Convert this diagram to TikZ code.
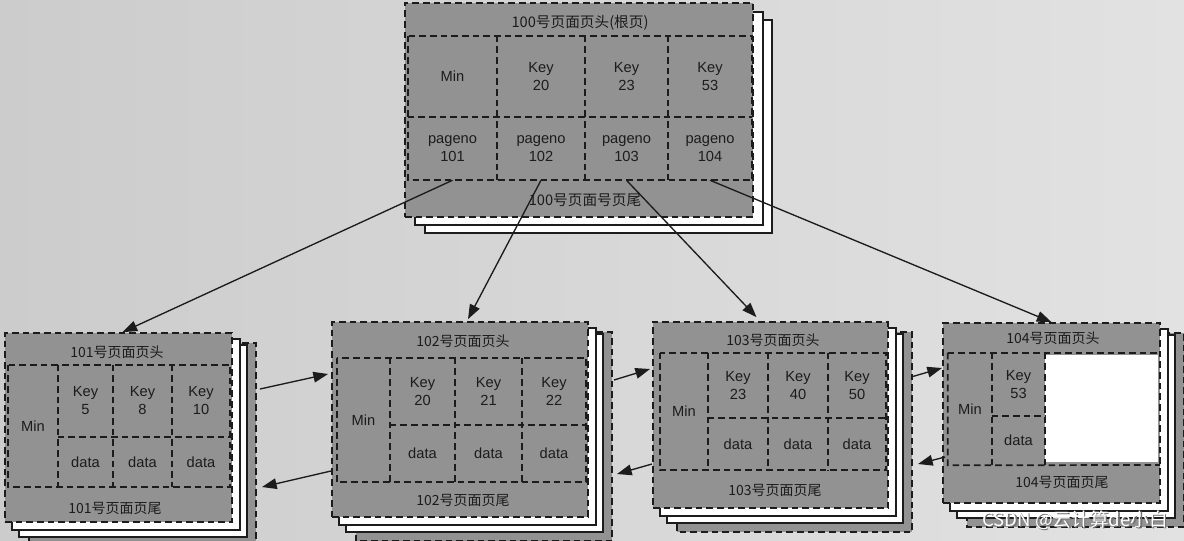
\documentclass[tikz,border=0pt]{standalone}
\usepackage{fontspec}
\setmainfont{Liberation Sans}
\newfontfamily\cjk{Noto Sans CJK SC}
\usetikzlibrary{arrows.meta,calc}
\definecolor{bgl}{RGB}{204,204,204}
\definecolor{bgr}{RGB}{226,226,226}
\definecolor{pg}{RGB}{146,146,146}
\definecolor{ink}{RGB}{28,28,28}
\newcommand\bx[7][]{\node[cell,#1, minimum width={(#5-#3)*0.75pt}, minimum height={(#6-#4)*0.75pt}] (#2) at ({(#3+#5)/2},{(#4+#6)/2}) {#7};}
\newcommand\bstack[4]{%
  \draw[fill=pg,dl] (#1+24,#2+10) rectangle (#3+24,#4+24);
  \draw[fill=white,line width=1pt,draw=ink] (#1+14,#2+12) rectangle (#3+15,#4+15);
  \draw[fill=white,line width=1pt,draw=ink] (#1+7,#2+6) rectangle (#3+8,#4+8);}
\begin{document}
\begin{tikzpicture}[x=0.75pt,y=-0.75pt,
  cell/.style={inner sep=0pt,align=center,text=ink,font=\fontsize{11}{13.5}\selectfont},
  pagebox/.style={draw=ink,fill=pg,line width=1.3pt,dash pattern=on 5pt off 3pt},
  dl/.style={draw=ink,line width=1.3pt,dash pattern=on 5pt off 3pt},
  hd/.style={text=ink,font=\cjk\fontsize{10.5}{12}\selectfont,inner sep=0pt},
  arr/.style={-{Triangle[length=11pt,width=8pt]},line width=1pt,draw=ink,fill=ink},
  wmk/.style={font=\cjk\fontsize{14}{16}\selectfont,inner sep=0pt}]
\useasboundingbox (0,0) rectangle (1184,540);
\shade[left color=bgl,right color=bgr] (0,0) rectangle (1184,540);

% ---------------- root page 100 ----------------
\draw[fill=white,line width=1pt,draw=ink] (425,20) rectangle (772,233);
\draw[fill=white,line width=1pt,draw=ink] (415,12) rectangle (763,225);
\bx[pagebox]{m100}{405}{3}{753}{217}{}
\node[hd,font=\cjk\fontsize{11}{12}\selectfont] (h100) at (580,23) {100号页面页头(根页)};
\bx{r11}{408}{36}{497}{117}{Min}
\bx{r12}{497}{36}{585}{117}{Key\\20}
\bx{r13}{585}{36}{668}{117}{Key\\23}
\bx{r14}{668}{36}{752}{117}{Key\\53}
\bx{r21}{408}{117}{497}{180}{pageno\\101}
\bx{r22}{497}{117}{585}{180}{pageno\\102}
\bx{r23}{585}{117}{668}{180}{pageno\\103}
\bx{r24}{668}{117}{752}{180}{pageno\\104}
\draw[dl] (r11.north west) rectangle (r24.south east);
\draw[dl] (r11.south west) -- (r14.south east);
\draw[dl] (r11.north east) -- (r21.south east);
\draw[dl] (r12.north east) -- (r22.south east);
\draw[dl] (r13.north east) -- (r23.south east);
\node[hd,font=\cjk\fontsize{11}{12}\selectfont] (f100) at (585,200) {100号页面号页尾};

% ---------------- page 101 ----------------
\bstack{5}{333}{232}{522}
\bx[pagebox]{m101}{5}{333}{232}{522}{}
\node[hd] (h101) at (117,352) {101号页面页头};
\bx{a0}{8}{365}{58}{487}{Min}
\bx{a1}{58}{365}{113}{437}{Key\\5}
\bx{a2}{113}{365}{172}{437}{Key\\8}
\bx{a3}{172}{365}{230}{437}{Key\\10}
\bx{a4}{58}{437}{113}{487}{data}
\bx{a5}{113}{437}{172}{487}{data}
\bx{a6}{172}{437}{230}{487}{data}
\draw[dl] (a0.north west) rectangle (a6.south east);
\draw[dl] (a0.north east) -- (a0.south east);
\draw[dl] (a1.north east) -- (a4.south east);
\draw[dl] (a2.north east) -- (a5.south east);
\draw[dl] (a1.south west) -- (a3.south east);
\node[hd] (f101) at (115,508) {101号页面页尾};

% ---------------- page 102 ----------------
\bstack{332}{322}{588}{517}
\bx[pagebox]{m102}{332}{322}{588}{517}{}
\node[hd] (h102) at (463,341) {102号页面页头};
\bx{b0}{337}{358}{390}{482}{Min}
\bx{b1}{390}{358}{455}{425}{Key\\20}
\bx{b2}{455}{358}{522}{425}{Key\\21}
\bx{b3}{522}{358}{586}{425}{Key\\22}
\bx{b4}{390}{425}{455}{482}{data}
\bx{b5}{455}{425}{522}{482}{data}
\bx{b6}{522}{425}{586}{482}{data}
\draw[dl] (b0.north west) rectangle (b6.south east);
\draw[dl] (b0.north east) -- (b0.south east);
\draw[dl] (b1.north east) -- (b4.south east);
\draw[dl] (b2.north east) -- (b5.south east);
\draw[dl] (b1.south west) -- (b3.south east);
\node[hd] (f102) at (463,500) {102号页面页尾};

% ---------------- page 103 ----------------
\bstack{653}{322}{888}{508}
\bx[pagebox]{m103}{653}{322}{888}{508}{}
\node[hd] (h103) at (773,340) {103号页面页头};
\bx{c0}{660}{353}{708}{470}{Min}
\bx{c1}{708}{353}{768}{418}{Key\\23}
\bx{c2}{768}{353}{828}{418}{Key\\40}
\bx{c3}{828}{353}{886}{418}{Key\\50}
\bx{c4}{708}{418}{768}{470}{data}
\bx{c5}{768}{418}{828}{470}{data}
\bx{c6}{828}{418}{886}{470}{data}
\draw[dl] (c0.north west) rectangle (c6.south east);
\draw[dl] (c0.north east) -- (c0.south east);
\draw[dl] (c1.north east) -- (c4.south east);
\draw[dl] (c2.north east) -- (c5.south east);
\draw[dl] (c1.south west) -- (c3.south east);
\node[hd] (f103) at (775,490) {103号页面页尾};

% ---------------- page 104 ----------------
\bstack{943}{323}{1160}{503}
\bx[pagebox]{m104}{943}{323}{1160}{503}{}
\node[hd] (h104) at (1053,338) {104号页面页头};
\fill[white] (1045,355) rectangle (1158,462);
\bx{d0}{948}{353}{992}{465}{Min}
\bx{d1}{992}{353}{1045}{416}{Key\\53}
\bx{d2}{992}{416}{1045}{465}{data}
\coordinate (d3) at (1160,465);
\draw[dl] (d0.north west) -- (d3 |- d0.north) ;
\draw[dl] (d0.north west) -- (d0.south west) -- (d3);
\draw[dl] (d0.north east) -- (d0.south east);
\draw[dl] (d1.north east) -- (d2.south east);
\draw[dl] (d1.south west) -- (d1.south east);
\node[hd] (f104) at (1062,482) {104号页面页尾};

% ---------------- root arrows ----------------
\draw[arr] (r21.south) -- ($(m101.north)+(4,0)$);
\draw[arr] (r22.south) -- ($(m102.north)+(8,-2)$);
\draw[arr] (r23.south) -- ($(m103.north)+(-14,-4)$);
\draw[arr] (r24.south) -- (m104.north);

% ---------------- sibling arrows ----------------
\coordinate (s1a) at (260,389); \coordinate (s1b) at (328,374);
\coordinate (s2a) at (331,471); \coordinate (s2b) at (262,487);
\coordinate (s3a) at (614,380); \coordinate (s3b) at (650,369);
\coordinate (s4a) at (652,464); \coordinate (s4b) at (617,474);
\coordinate (s5a) at (911,377); \coordinate (s5b) at (942,368);
\coordinate (s6a) at (945,457); \coordinate (s6b) at (918,464);
\draw[arr] (s1a) -- (s1b);
\draw[arr] (s2a) -- (s2b);
\draw[arr] (s3a) -- (s3b);
\draw[arr] (s4a) -- (s4b);
\draw[arr] (s5a) -- (s5b);
\draw[arr] (s6a) -- (s6b);

% ---------------- watermark ----------------
\node[wmk,text=black!55] (wms) at (1076.5,521.5) {CSDN @云计算de小白};
\node[wmk,text=white] (wm) at (1075,520) {CSDN @云计算de小白};
\end{tikzpicture}
\end{document}
